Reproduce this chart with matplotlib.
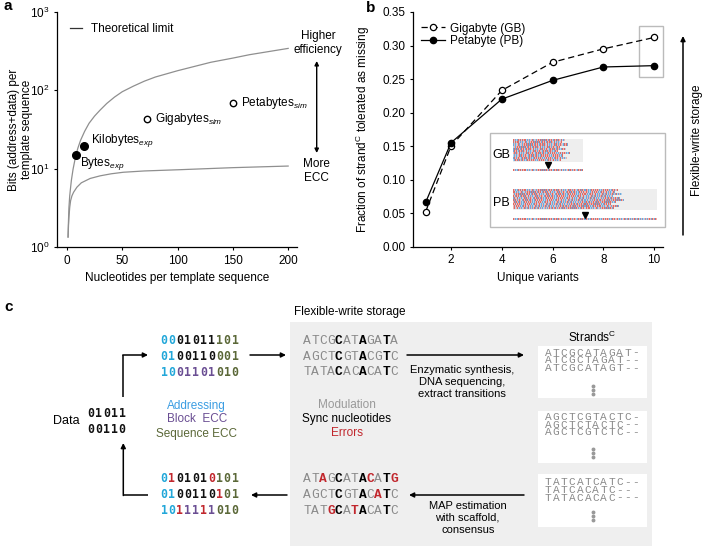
import matplotlib
matplotlib.use('Agg')
import matplotlib.pyplot as plt
import numpy as np
from matplotlib.patches import Rectangle
from matplotlib.ticker import FixedLocator, NullLocator, LogFormatterMathtext, FormatStrFormatter
from matplotlib.colors import to_rgba

plt.rcParams['font.family'] = ['Liberation Sans', 'DejaVu Sans']
plt.rcParams['mathtext.fontset'] = 'custom'
plt.rcParams['mathtext.rm'] = 'Liberation Sans'
plt.rcParams['mathtext.it'] = 'Liberation Sans:italic'
plt.rcParams['mathtext.bf'] = 'Liberation Sans:bold'

# ---------------- data: panel a ----------------
limit_nt = [1, 1.4, 1.8, 2.5, 3.2, 4, 5.5, 8, 10, 12.3, 16, 20, 25, 30, 36, 43, 50, 60, 70, 80,
            100, 130, 150, 165, 200]
limit_hi = [1.34, 2.2, 3.2, 4.5, 5.6, 7.1, 9.8, 14.8, 18.5, 23, 30, 38, 47, 56, 68, 82, 96, 113,
            131, 148, 178, 228, 258, 285, 343]
ecc_nt = [1, 1.4, 1.8, 2.5, 3.3, 4.5, 6, 9, 13, 21, 30, 40, 51, 70, 102, 150, 200]
limit_lo = [1.34, 1.9, 2.4, 3.2, 3.9, 4.5, 5.0, 5.8, 6.6, 7.5, 8.1, 8.6, 9.0, 9.35, 9.7, 10.3, 10.8]
exp_names = ['Bytes$_{exp}$', 'Kilobytes$_{exp}$']
exp_nt = [7.8, 15.3]
exp_bits = [14.8, 19.4]
sim_names = ['Gigabytes$_{sim}$', 'Petabytes$_{sim}$']
sim_nt = [72.5, 150.4]
sim_bits = [42.5, 68]
a_xticks = [0, 50, 100, 150, 200]
a_yticks = [1, 10, 100, 1000]

# ---------------- data: panel b ----------------
variants = [1, 2, 4, 6, 8, 10]
gb = [0.052, 0.150, 0.233, 0.275, 0.295, 0.312]
pb = [0.066, 0.155, 0.220, 0.248, 0.268, 0.270]
b_xticks = [2, 4, 6, 8, 10]
b_yticks = [0.00, 0.05, 0.10, 0.15, 0.20, 0.25, 0.30, 0.35]

# ---------------- data: panel c ----------------
data_bits = ['01011', '00110']
bin_top = ['0001011101', '0100110001', '1001101010']
bin_top_roles = ['AAKKKKKSSS', 'AAKKKKKSSS', 'AAPPPPPSSS']
bin_bot = ['0101010101', '0100110101', '1011111010']
bin_bot_roles = ['ARKKKKRSSS', 'AAKKKKKRSS', 'AARPPRPSSS']
dna_top = ['ATCGCATAGATA', 'AGCTCGTACGTC', 'TATACACACATC']
dna_top_roles = ['GGGGBGGBGGBG', 'GGGGBGGBGGBG', 'GGGGBGGBGGBG']
dna_bot = ['ATAGCATACATG', 'AGCTCGTACATC', 'TATGCATACATC']
dna_bot_roles = ['GGRGBGGBRGBR', 'GGGGBGGBGRBG', 'GGGRBGRBGGBG']
strands = [['ATCGCATAGAT-', 'ATCGCTAGAT--', 'ATCGCATAGT--'],
           ['AGCTCGTACTC-', 'AGCTCTACTC--', 'AGCTCGTCTC--'],
           ['TATCATCATC--', 'TATCACATC--', 'TATACACAC---']]

W, H = 702, 546
fig = plt.figure(figsize=(W / 100, H / 100), dpi=100)


def fr(x0, y0, x1, y1):
    return [x0 / W, 1 - y1 / H, (x1 - x0) / W, (y1 - y0) / H]


FS = 8.5
GRAYLINE = '#8f8f8f'


def style_axes(ax):
    for s in ['top', 'right']:
        ax.spines[s].set_visible(False)
    for s in ['left', 'bottom']:
        ax.spines[s].set_linewidth(0.9)
    ax.tick_params(direction='out', length=2.5, width=0.8, labelsize=FS, pad=3)


# ---------------- panel a ----------------
axa = fig.add_axes(fr(57, 12, 297, 247))
axa.set_yscale('log')
axa.plot(limit_nt, limit_hi, color=GRAYLINE, lw=0.9, label='Theoretical limit')
axa.plot(ecc_nt, limit_lo, color=GRAYLINE, lw=0.9)
axa.plot(exp_nt, exp_bits, 'o', color='k', ms=5.5)
axa.plot(sim_nt, sim_bits, 'o', mfc='white', mec='k', mew=1.0, ms=4.6)
offs_exp = [(3.4, -5.8), (5.0, 4.3)]
for n, x, y, o in zip(exp_names, exp_nt, exp_bits, offs_exp):
    axa.annotate(n, (x, y), xytext=o, textcoords='offset points', ha='left', va='center', fontsize=FS)
for n, x, y in zip(sim_names, sim_nt, sim_bits):
    axa.annotate(n, (x, y), xytext=(5.8, 0), textcoords='offset points', ha='left', va='center', fontsize=FS)
axa.set_xlim(-9, 208)
axa.set_ylim(1, 1000)
axa.xaxis.set_major_locator(FixedLocator(a_xticks))
axa.yaxis.set_major_locator(FixedLocator(a_yticks))
axa.yaxis.set_major_formatter(LogFormatterMathtext())
axa.yaxis.set_minor_locator(NullLocator())
style_axes(axa)
axa.set_xlabel('Nucleotides per template sequence', fontsize=FS, labelpad=4)
axa.set_ylabel('Bits (address+data) per\ntemplate sequence', fontsize=FS, linespacing=1.1)
axa.yaxis.set_label_coords(-0.1, 0.5)
leg = axa.legend(loc='upper left', bbox_to_anchor=(0.055, 0.954), frameon=False, fontsize=FS,
                 handlelength=1.0, handletextpad=0.75, borderpad=0, borderaxespad=0)
leg.get_lines()[0].set_color('#333333')

# ---------------- panel b ----------------
axb = fig.add_axes(fr(413, 12, 663, 246.7))
axb.plot(variants, gb, ls=(0, (5, 3)), color='k', lw=0.9, marker='o', mfc='white', mec='k',
         ms=4.5, mew=0.9, label='Gigabyte (GB)')
axb.plot(variants, pb, ls='-', color='k', lw=0.9, marker='o', ms=4.5, label='Petabyte (PB)')
axb.set_xlim(0.504, 10.35)
axb.set_ylim(0, 0.35)
axb.xaxis.set_major_locator(FixedLocator(b_xticks))
axb.yaxis.set_major_locator(FixedLocator(b_yticks))
axb.yaxis.set_major_formatter(FormatStrFormatter('%.2f'))
style_axes(axb)
axb.set_xlabel('Unique variants', fontsize=FS, labelpad=4)
axb.set_ylabel('Fraction of strand$^{\\mathrm{C}}$ tolerated as missing', fontsize=FS)
axb.yaxis.set_label_coords(-0.165, 0.5)
axb.legend(loc='upper left', bbox_to_anchor=(0.03, 0.955), frameon=False, fontsize=FS,
           handlelength=2.1, handletextpad=0.4, borderpad=0, borderaxespad=0, labelspacing=0.02)
axb.add_patch(Rectangle((9.41, 0.253), 0.94, 0.0755, fill=False, ec='#bbbbbb', lw=1.0, clip_on=False))

# ---------------- overlay (pixel coordinates) ----------------
ov = fig.add_axes([0, 0, 1, 1])
ov.axis('off')

# panel letters
ov.text(4, 6, 'a', fontsize=11, fontweight='bold', ha='left', va='center')
ov.text(366, 8, 'b', fontsize=11, fontweight='bold', ha='left', va='center')
ov.text(4, 307, 'c', fontsize=11, fontweight='bold', ha='left', va='center')

AP = dict(arrowstyle='-|>', color='k', lw=1.1, mutation_scale=7, shrinkA=0, shrinkB=0)

# panel a side annotation
ov.annotate('', xy=(316.7, 61), xytext=(316.7, 153),
            arrowprops=dict(arrowstyle='<|-|>', color='k', lw=1.0, mutation_scale=6, shrinkA=0, shrinkB=0))
ov.text(318, 43, 'Higher\nefficiency', fontsize=FS, ha='center', va='center', linespacing=1.25)
ov.text(316.7, 171, 'More\nECC', fontsize=FS, ha='center', va='center', linespacing=1.25)

# panel b side annotation
ov.annotate('', xy=(683, 36), xytext=(683, 235), arrowprops=AP)
ov.text(697, 140, 'Flexible-write storage', fontsize=FS, rotation=90, ha='center', va='center')

# panel b inset
ov.add_patch(Rectangle((490, 133), 175, 94, fc='white', ec='#bbbbbb', lw=1.0, zorder=2))
ov.text(501.7, 155, 'GB', fontsize=9, ha='center', va='center', zorder=3)
ov.text(501.7, 203, 'PB', fontsize=9, ha='center', va='center', zorder=3)
ov.add_patch(Rectangle((513.3, 139.3), 70, 22.4, fc='#eeeeee', ec='none', zorder=2.5))
ov.add_patch(Rectangle((513.3, 189.3), 143.4, 20.7, fc='#eeeeee', ec='none', zorder=2.5))

nuc_col = {'A': '#dc6d68', 'T': '#f0b3b0', 'C': '#6eaadc', 'G': '#b4d3ec'}
src = ''.join(dna_top + dna_bot + [s.replace('-', '') for blk in strands for s in blk])


def texture(rows, ncells, lens, shift):
    img = np.zeros((rows, ncells, 4))
    for r in range(rows):
        k = (r * shift) % len(src)
        seq = src[k:] + src * 20
        for c in range(min(lens[r], ncells)):
            img[r, c] = to_rgba(nuc_col[seq[c]])
    return img


gb_lens = [52, 49, 55, 47, 53, 45, 57, 50, 54, 48]
pb_lens = [104, 101, 108, 99, 106, 110, 102, 97, 105, 100]
ov.imshow(texture(10, 70, gb_lens, 7), extent=(513.3, 583.3, 161.5, 139.5), aspect='auto',
          interpolation='nearest', zorder=3)
ov.imshow(texture(10, 143, pb_lens, 11), extent=(513.3, 656.7, 209.5, 189.5), aspect='auto',
          interpolation='nearest', zorder=3)
ov.imshow(texture(1, 70, [70], 3), extent=(513.3, 583.3, 170.8, 169.2), aspect='auto',
          interpolation='nearest', zorder=3)
ov.imshow(texture(1, 143, [143], 5), extent=(513.3, 656.7, 220.3, 218.7), aspect='auto',
          interpolation='nearest', zorder=3)
ov.plot([548.3], [164.5], marker='v', color='k', ms=4.5, zorder=4)
ov.plot([585], [214.5], marker='v', color='k', ms=4.5, zorder=4)

# panel c
ov.add_patch(Rectangle((290, 322), 362, 230, fc='#efefef', ec='none', zorder=0.5))
for (y0, y1) in [(346, 398.3), (410.7, 462.7), (474.3, 527.3)]:
    ov.add_patch(Rectangle((538.3, y0), 108.4, y1 - y0, fc='white', ec='none', zorder=0.6))
ov.text(350, 312, 'Flexible-write storage', fontsize=FS, ha='center', va='center')

role_col = {'A': '#22a7d9', 'K': '#111111', 'P': '#6a4e93', 'S': '#5b6838', 'R': '#c1272d',
            'G': '#8a8a8a', 'B': '#000000'}


def mono(x0, y, s, roles, cw, size, family, weight_fn):
    for i, (ch, ro) in enumerate(zip(s, roles)):
        ov.text(x0 + (i + 0.5) * cw, y, ch, color=role_col[ro], fontsize=size, family=family,
                fontweight=weight_fn(ro), ha='center', va='center', zorder=3)


bin_y_top = [341, 356.5, 372]
bin_y_bot = [479, 495, 510.5]
for s, r, y in zip(bin_top, bin_top_roles, bin_y_top):
    mono(160, y, s, r, 7.9, 8.3, 'DejaVu Sans Mono', lambda ro: 'bold')
for s, r, y in zip(bin_bot, bin_bot_roles, bin_y_bot):
    mono(160, y, s, r, 7.9, 8.3, 'DejaVu Sans Mono', lambda ro: 'bold')
for s, y in zip(data_bits, [413.3, 429.3]):
    mono(87.3, y, s, 'K' * len(s), 7.74, 8.3, 'DejaVu Sans Mono', lambda ro: 'bold')
ov.text(66.5, 421, 'Data', fontsize=9, ha='center', va='center')

dna_w = lambda ro: 'bold' if ro in 'BR' else 'normal'
for s, r, y in zip(dna_top, dna_top_roles, bin_y_top):
    mono(303.3, y, s, r, 7.9, 9.3, 'Liberation Mono', dna_w)
for s, r, y in zip(dna_bot, dna_bot_roles, bin_y_bot):
    mono(303.3, y, s, r, 7.9, 9.3, 'Liberation Mono', dna_w)

ov.text(196.7, 405.7, 'Addressing', fontsize=FS, color='#3b9de2', ha='center', va='center')
ov.text(196.7, 419.5, 'Block  ECC', fontsize=FS, color='#6a4e93', ha='center', va='center')
ov.text(196.7, 434, 'Sequence ECC', fontsize=FS, color='#5b6838', ha='center', va='center')
ov.text(346.5, 405, 'Modulation', fontsize=FS, color='#999999', ha='center', va='center', zorder=3)
ov.text(346.5, 419.3, 'Sync nucleotides', fontsize=FS, color='#000000', ha='center', va='center', zorder=3)
ov.text(346.5, 433.3, 'Errors', fontsize=FS, color='#c1272d', ha='center', va='center', zorder=3)

ov.text(461.7, 381.7, 'Enzymatic synthesis,\nDNA sequencing,\nextract transitions', fontsize=8,
        ha='center', va='center', linespacing=1.25, zorder=3)
ov.text(467.7, 518, 'MAP estimation\nwith scaffold,\nconsensus', fontsize=8,
        ha='center', va='center', linespacing=1.25, zorder=3)
ov.text(592, 337.3, 'Strands$^{\\mathrm{C}}$', fontsize=FS, ha='center', va='center', zorder=3)

strand_rows_y = [[352.5, 360.3, 368.1], [416.7, 424.5, 432.3], [482, 489.8, 497.6]]
dots_y = [[386, 390.2, 394.4], [448.5, 452.7, 456.9], [512, 516.2, 520.4]]
for blk, ys, dys in zip(strands, strand_rows_y, dots_y):
    for s, y in zip(blk, ys):
        mono(544.3, y, s, 'G' * len(s), 7.92, 8.0, 'Liberation Mono', lambda ro: 'normal')
    ov.plot([592.7] * 3, dys, 'o', color='#999999', ms=1.8, zorder=3)

# arrows in panel c
ov.plot([123.3, 123.3], [397, 355], color='k', lw=1.1, solid_capstyle='butt')
ov.annotate('', xy=(148, 355), xytext=(122.8, 355), arrowprops=AP)
ov.plot([148, 123.3], [495, 495], color='k', lw=1.1, solid_capstyle='butt')
ov.annotate('', xy=(123.3, 443), xytext=(123.3, 495.5), arrowprops=AP)
ov.annotate('', xy=(286, 355), xytext=(250, 355), arrowprops=AP)
ov.annotate('', xy=(251, 495), xytext=(287, 495), arrowprops=AP)
ov.annotate('', xy=(524, 355), xytext=(407, 355), arrowprops=AP)
ov.annotate('', xy=(409, 495), xytext=(524, 495), arrowprops=AP)

ov.set_xlim(0, W)
ov.set_ylim(H, 0)
ov.set_aspect('auto')

fig.savefig('out.png', dpi=100)
